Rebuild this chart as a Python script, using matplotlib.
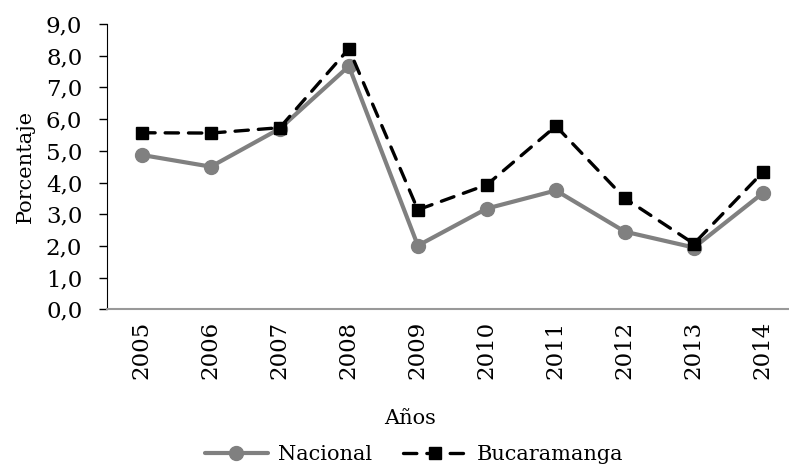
import matplotlib
matplotlib.use("Agg")
import matplotlib.pyplot as plt
from matplotlib.ticker import FuncFormatter, MultipleLocator

years = ["2005", "2006", "2007", "2008", "2009", "2010", "2011", "2012", "2013", "2014"]
nacional = [4.87, 4.50, 5.70, 7.67, 2.01, 3.18, 3.75, 2.45, 1.95, 3.67]
bucaramanga = [5.57, 5.56, 5.73, 8.22, 3.14, 3.93, 5.78, 3.50, 2.07, 4.33]

plt.rcParams['font.family'] = ['DejaVu Serif']
fig = plt.figure(figsize=(7.89, 4.68), dpi=100)
ax = fig.add_axes([0.136, 0.339, 0.8747, 0.6097])

x = list(range(len(years)))
ax.plot(x, nacional, color="#808080", lw=3.0, marker="o", markersize=10,
        label="Nacional", solid_capstyle="round")
ax.plot(x, bucaramanga, color="black", lw=2.4, marker="s", markersize=8,
        dashes=(4, 3), dash_capstyle="round", label="Bucaramanga")

ax.set_xlim(-0.5, len(years) - 0.5)
ax.set_ylim(0, 9)
ax.yaxis.set_major_locator(MultipleLocator(1))
ax.yaxis.set_major_formatter(FuncFormatter(lambda v, p: f"{v:.1f}".replace(".", ",")))
ax.set_xticks(x)
ax.set_xticklabels(years, rotation=90)
ax.tick_params(axis="x", length=0, pad=8, labelsize=16.5)
ax.tick_params(axis="y", length=6, width=1, direction="out", labelsize=16.5, pad=12)

for s in ["top", "right"]:
    ax.spines[s].set_visible(False)
ax.spines["left"].set_color("black")
ax.spines["bottom"].set_color("#999999")
ax.spines["bottom"].set_linewidth(1.5)

ax.set_ylabel("Porcentaje", fontsize=15, labelpad=8)
fig.text(410 / 789, 1 - 418 / 468, "Años", ha="center", va="center", fontsize=15)

fig.legend(loc="center", bbox_to_anchor=(414 / 789, 1 - 455 / 468), ncol=2,
           frameon=False, fontsize=15, handlelength=3.0, columnspacing=1.5,
           handletextpad=0.5)

fig.savefig("out.png", dpi=100)
